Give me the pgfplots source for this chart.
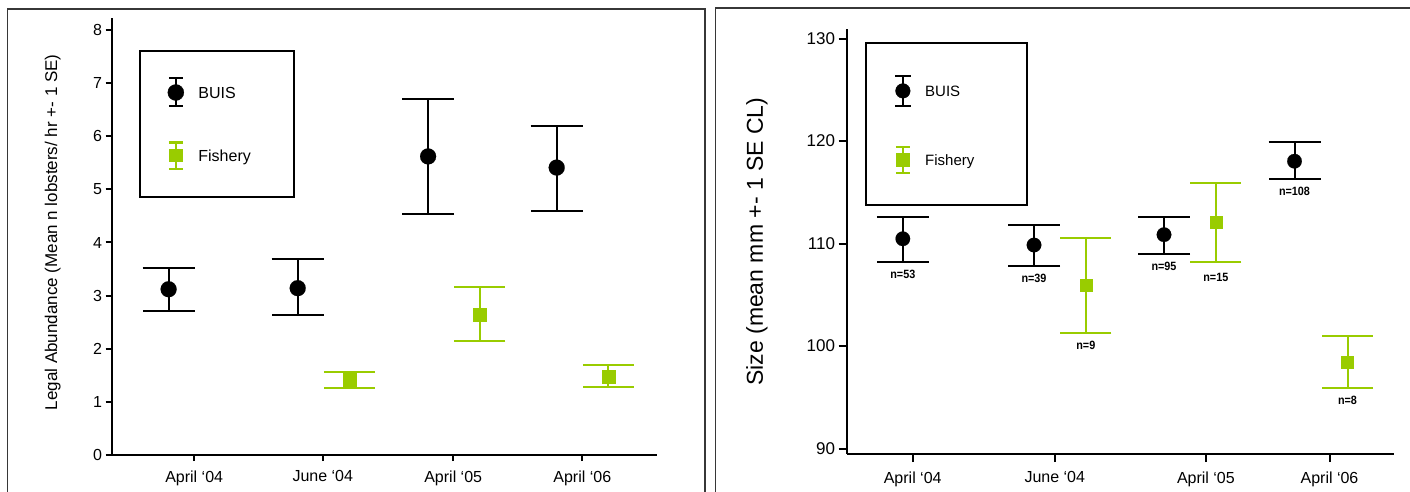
\documentclass[border=0pt]{standalone}
\usepackage{fontspec}
\setmainfont{Liberation Sans}
\newfontfamily\nfont[FakeStretch=0.9]{Liberation Sans}
\usepackage{pgfplots}
\pgfplotsset{compat=1.18}
\definecolor{fishgreen}{RGB}{153,204,0}
\definecolor{framegray}{RGB}{55,55,55}
\pgfplotsset{
  panel/.style={
    scale only axis,
    axis lines*=left,
    axis line style={line width=2pt, black},
    tick align=outside,
    tick style={line width=2pt, black},
    /pgf/number format/assume math mode=true,
    clip=false,
    legend style={draw=none, fill=none, inner sep=0pt, anchor=north west,
      nodes={inner sep=0pt, text height=11.5pt, text depth=0pt}},
    legend cell align=left,
  },
}
\begin{document}
\begin{tikzpicture}[x=1pt,y=1pt]
\useasboundingbox (0,0) rectangle (1410,491);
\draw[line width=1.3pt, framegray] (7.3,-20) -- (7.3,482) -- (705,482) -- (705,-20);
\draw[line width=1.3pt, framegray] (715.5,-20) -- (715.5,483) -- (1430,483);
% legend boxes
\draw[line width=2pt, black] (140,294.3) rectangle (293.6,440.3);
\draw[line width=2pt, black] (865.5,286.3) rectangle (1026.5,447.7);

% ---------------- left panel ----------------
\begin{axis}[panel,
  at={(111.5pt,36pt)}, anchor=south west,
  width=545pt, height=436.7pt,
  xmin=111.5, xmax=656.5, ymin=0, ymax=8.22,
  ytick={0,1,2,3,4,5,6,7,8},
  xtick={194.2,322.8,453.2,582.3},
  xticklabels={April ‘04, June ‘04, April ‘05, April ‘06},
  major tick length=6pt,
  yticklabel style={font=\fontsize{16}{18}\selectfont},
  xticklabel style={font=\fontsize{16}{18}\selectfont, yshift=-6pt},
  ylabel={Legal Abundance (Mean n lobsters/ hr +- 1 SE)},
  ylabel style={at={(axis description cs:-0.108,0.51)}, anchor=center, font=\fontsize{17}{19}\selectfont},
  legend style={at={(0.1026,0.8649)}, row sep=34pt, column sep=14.4pt,
    nodes={font=\fontsize{16}{18}\selectfont}},
]
\addplot[black, only marks, mark=*, mark size=8pt, mark options={line width=0.1pt, fill=black},
  legend image code/.code={
    \draw[black, line width=2pt] (0pt,-14pt) -- (0pt,14pt) (-7pt,14pt) -- (7pt,14pt) (-7pt,-14pt) -- (7pt,-14pt);
    \fill[black] (0pt,0pt) circle[radius=8pt];},
  error bars/.cd, y dir=both, y explicit, error mark=|,
  error bar style={line width=2pt, black},
  error mark options={line width=2pt, black, mark size=26pt},
] coordinates {
  (168.6,3.12) += (0,0.40) -= (0,0.41)
  (297.7,3.14) += (0,0.55) -= (0,0.50)
  (428.1,5.62) += (0,1.08) -= (0,1.08)
  (556.7,5.41) += (0,0.78) -= (0,0.81)
};
\addplot[fishgreen, only marks, mark=square*, mark size=6.5pt, mark options={line width=0.1pt, fill=fishgreen},
  legend image code/.code={
    \draw[fishgreen, line width=2pt] (0pt,-13pt) -- (0pt,13pt) (-7pt,13pt) -- (7pt,13pt) (-7pt,-13pt) -- (7pt,-13pt);
    \fill[fishgreen] (-6.5pt,-6pt) rectangle (6.5pt,6pt);},
  error bars/.cd, y dir=both, y explicit, error mark=|,
  error bar style={line width=2pt, fishgreen},
  error mark options={line width=2pt, fishgreen, mark size=25.5pt},
] coordinates {
  (349.4,1.42) += (0,0.14) -= (0,0.16)
  (479.8,2.65) += (0,0.52) -= (0,0.51)
  (608.4,1.47) += (0,0.22) -= (0,0.19)
};
\legend{BUIS,Fishery}
\end{axis}

% ---------------- right panel ----------------
\begin{axis}[panel,
  at={(846.6pt,37pt)}, anchor=south west,
  width=547.4pt, height=424.7pt,
  xmin=846.6, xmax=1394, ymin=89.47, ymax=130.91,
  ytick={90,100,110,120,130},
  xtick={912.7,1054.8,1205.9,1329.5},
  xticklabels={April ‘04, June ‘04, April ‘05, April ‘06},
  major tick length=8pt,
  yticklabel style={font=\fontsize{17}{19}\selectfont},
  xticklabel style={font=\fontsize{16}{18}\selectfont, yshift=-6pt},
  ylabel={Size (mean mm +- 1 SE CL)},
  ylabel style={at={(axis description cs:-0.164,0.5)}, anchor=center, font=\fontsize{23}{26}\selectfont},
  legend style={at={(0.0864,0.8931)}, row sep=38.6pt, column sep=13.5pt,
    nodes={font=\fontsize{15}{17}\selectfont, text height=11pt}},
]
\addplot[black, only marks, mark=*, mark size=7.3pt, mark options={line width=0.1pt, fill=black},
  legend image code/.code={
    \draw[black, line width=2pt] (0pt,-15pt) -- (0pt,15pt) (-7.8pt,15pt) -- (7.8pt,15pt) (-7.8pt,-15pt) -- (7.8pt,-15pt);
    \fill[black] (0pt,0pt) circle[radius=7.3pt];},
  error bars/.cd, y dir=both, y explicit, error mark=|,
  error bar style={line width=2pt, black},
  error mark options={line width=2pt, black, mark size=26pt},
] coordinates {
  (902.8,110.47) += (0,2.13) -= (0,2.27)
  (1034,109.86) += (0,1.98) -= (0,2.06)
  (1164,110.87) += (0,1.73) -= (0,1.87)
  (1294.5,118.04) += (0,1.86) -= (0,1.74)
};
\addplot[fishgreen, only marks, mark=square*, mark size=6pt, mark options={line width=0.1pt, fill=fishgreen},
  legend image code/.code={
    \draw[fishgreen, line width=2pt] (0pt,-13pt) -- (0pt,13pt) (-7pt,13pt) -- (7pt,13pt) (-7pt,-13pt) -- (7pt,-13pt);
    \fill[fishgreen] (-6.5pt,-6.3pt) rectangle (6.5pt,6.3pt);},
  error bars/.cd, y dir=both, y explicit, error mark=|,
  error bar style={line width=2pt, fishgreen},
  error mark options={line width=2pt, fishgreen, mark size=25.5pt},
] coordinates {
  (1085.8,106.0) += (0,4.56) -= (0,4.70)
  (1215.8,112.06) += (0,3.84) -= (0,3.86)
  (1347.5,98.47) += (0,2.56) -= (0,2.57)
};
\legend{BUIS,Fishery}
\addplot[draw=none, mark=none, forget plot, nodes near coords, point meta=explicit symbolic,
  nodes near coords style={anchor=center, yshift=-12.5pt, text=black, font=\nfont\bfseries\fontsize{12}{13}\selectfont}]
  coordinates {
  (902.8,108.2) [n=53]
  (1034,107.8) [n=39]
  (1085.8,101.3) [n=9]
  (1164,109.0) [n=95]
  (1215.8,107.9) [n=15]
  (1294.5,116.3) [n=108]
  (1347.5,95.9) [n=8]
};
\end{axis}
\end{tikzpicture}
\end{document}
